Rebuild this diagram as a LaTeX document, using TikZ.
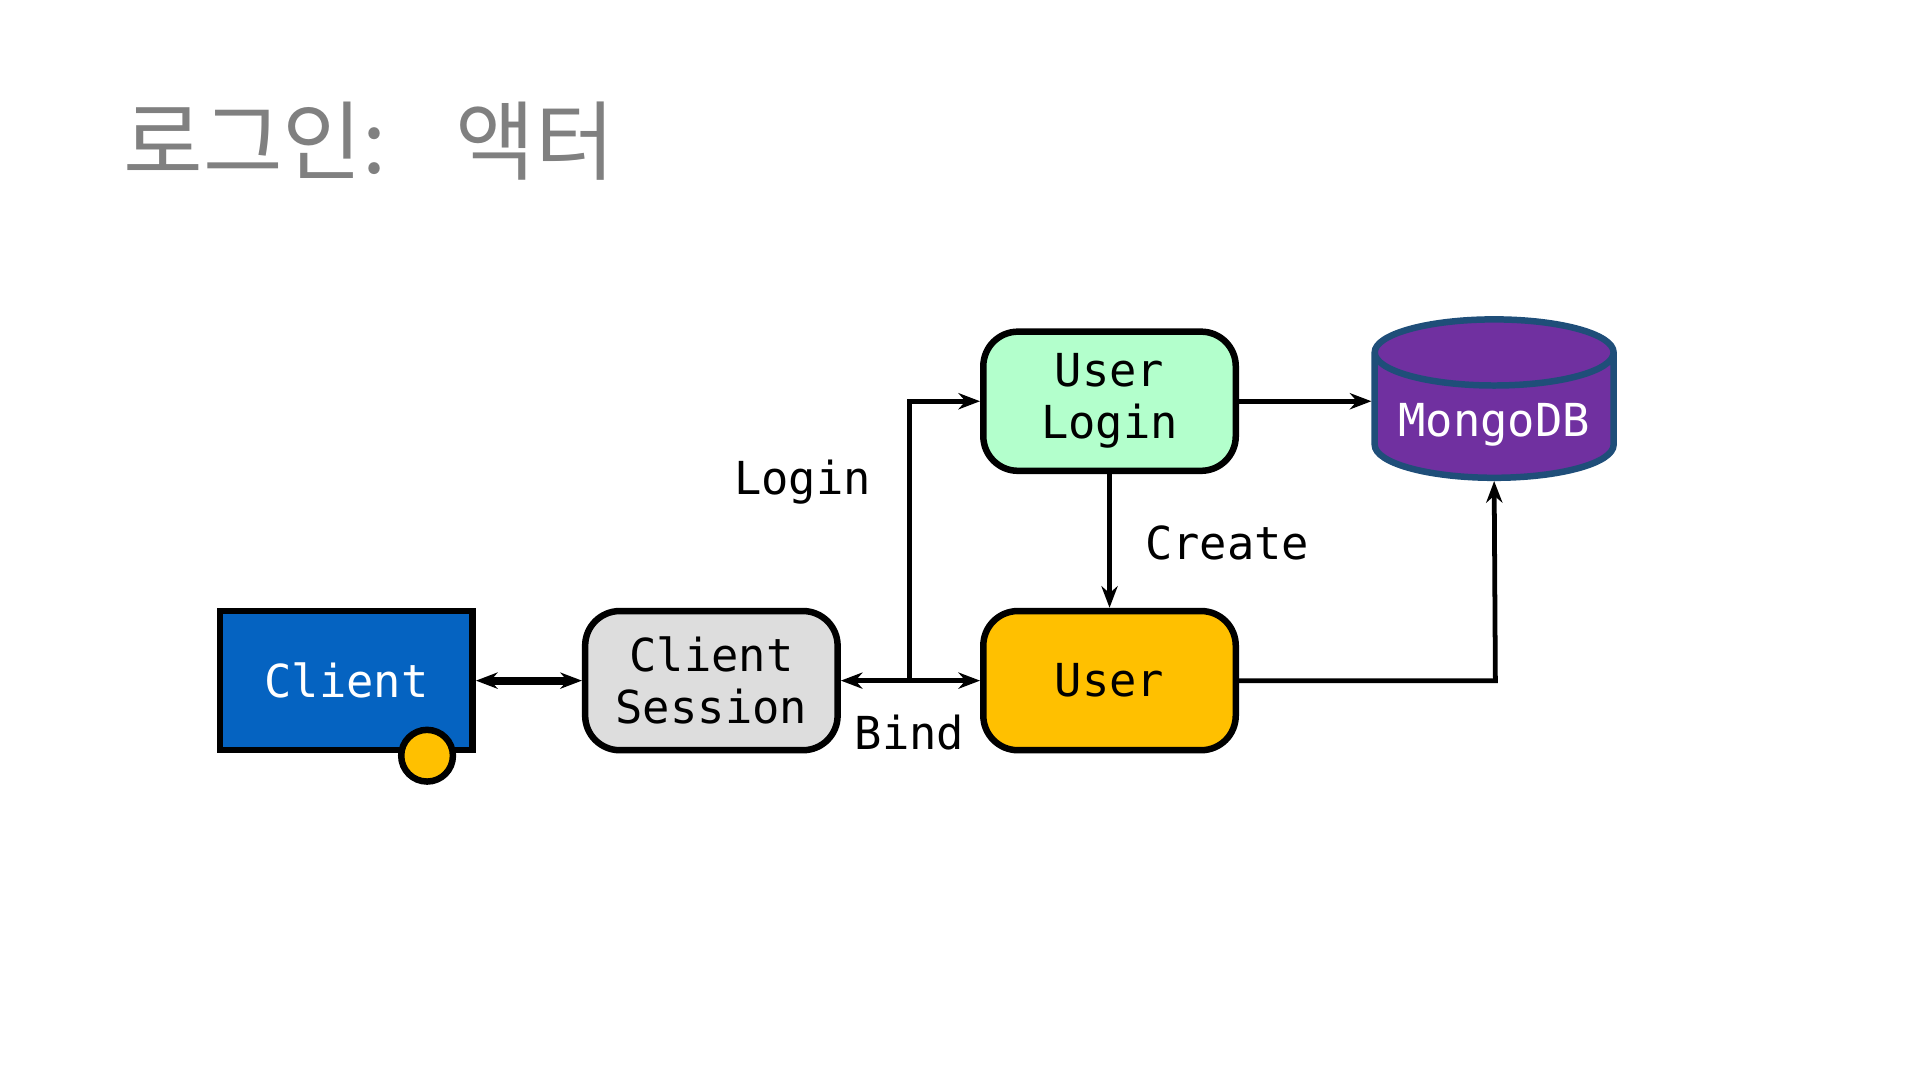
\documentclass[tikz,border=0pt]{standalone}
\usepackage{fontspec}
\setmonofont{DejaVu Sans Mono}
\newfontfamily\cjk{Noto Sans CJK KR}
\usetikzlibrary{shapes.geometric,arrows.meta}
\definecolor{clientblue}{HTML}{0563C1}
\definecolor{sessiongray}{HTML}{DDDDDD}
\definecolor{logingreen}{HTML}{B3FFCC}
\definecolor{useryellow}{HTML}{FFC000}
\definecolor{mongopurple}{HTML}{7030A0}
\definecolor{mongoedge}{HTML}{1F4E79}
\begin{document}
\begin{tikzpicture}[
    x=0.01cm, y=-0.01cm,
    box/.style={rectangle, draw, line width=1.5pt, minimum width=2.05cm, minimum height=1.13cm, align=center, font=\ttfamily\fontsize{10.5}{12}\selectfont},
    actor/.style={box, rounded corners=8pt},
    arrow/.style={line width=1.1pt, -{Stealth[length=5pt]}},
    lbl/.style={font=\ttfamily\fontsize{10.5}{12}\selectfont}
]
    \useasboundingbox (0,0) rectangle (1560,878);
    % Title
    \node [anchor=west, text=black!50, font=\cjk\fontsize{20}{24}\selectfont] (title) at (88,115) {로그인:\hspace{0.8em}액터};

    % Nodes
    \node [box, fill=clientblue, text=white] (client) at (281.5,553) {Client};
    \node [actor, fill=sessiongray] (session) at (578,553) {Client\\Session};
    \node [actor, fill=logingreen] (login) at (901.5,326) {User\\Login};
    \node [actor, fill=useryellow] (user) at (901.5,553) {User};
    \node [cylinder, shape border rotate=90, aspect=0.3, draw=mongoedge, line width=1.5pt, fill=mongopurple, text=white, minimum width=1.94cm, minimum height=1.05cm, font=\ttfamily\fontsize{10.5}{12}\selectfont] (mongo) at (1214,345) {MongoDB};
    \node [circle, draw, line width=1.5pt, fill=useryellow, minimum size=0.42cm, inner sep=0pt] (token) at (347,614) {};

    \coordinate (fork) at (739,553);
    \coordinate (mongodrop) at (1215,553);

    % Arrows
    \draw [arrow, {Stealth[length=5pt]}-{Stealth[length=5pt]}, line width=1.8pt] (client) -- (session);
    \draw [arrow, {Stealth[length=5pt]}-{Stealth[length=5pt]}] (session) -- (user);
    \draw [arrow] (fork) |- (login);
    \draw [arrow] (login) -- (user);
    \draw [arrow] (login.east) -- (login.east -| mongo.west);
    \draw [arrow] (user) -- (mongodrop) -- (mongo.bottom);

    % Labels
    \node [lbl] (loginlbl) at (652,392) {Login};
    \node [lbl] (bindlbl) at (739,595) {Bind};
    \node [lbl] (createlbl) at (997,441) {Create};
\end{tikzpicture}
\end{document}
